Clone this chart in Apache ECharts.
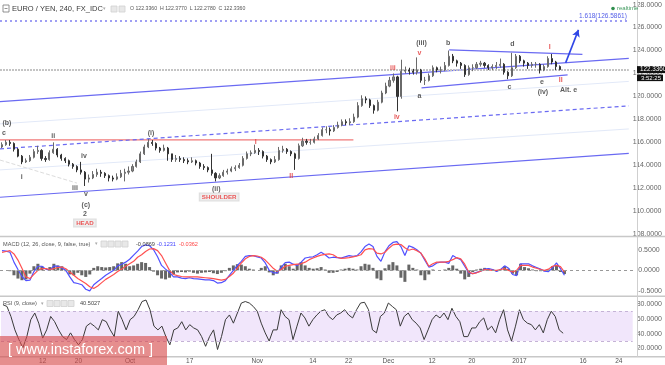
<!DOCTYPE html>
<html><head><meta charset="utf-8">
<script src="https://cdn.jsdelivr.net/npm/echarts@6/dist/echarts.min.js"></script>
<style>html,body{margin:0;padding:0;background:#fff;overflow:hidden}#c{width:665px;height:365px}</style>
</head><body><div id="c"></div>
<script>
// ---------- DATA ----------
// 4-bar aggregated candles: [open, close, low, high]
const ohlc = [
[115.6,115.8,115.5,116.0],[115.8,116.0,115.7,116.2],[116.0,115.9,115.7,116.2],[115.9,115.4,115.2,116.0],[115.4,114.8,114.7,115.5],
[114.8,114.3,114.1,114.9],[114.3,114.4,114.2,114.6],[114.4,114.7,114.3,114.9],[114.7,115.2,114.6,115.4],[115.2,115.3,115.0,115.7],
[115.3,114.6,114.4,115.4],[114.6,114.5,114.3,114.8],[114.5,115.1,114.4,115.3],[115.1,115.4,115.0,116.0],[115.4,114.9,114.7,115.5],
[114.9,114.6,114.4,115.0],[114.6,114.4,114.2,114.7],[114.4,114.1,113.9,114.5],[114.1,113.9,113.7,114.2],[113.9,113.6,113.4,114.0],
[113.6,113.4,113.2,114.3],[113.4,112.8,112.2,113.5],[112.8,112.9,112.5,113.2],[112.9,113.2,112.8,113.5],[113.2,113.4,113.0,113.7],
[113.4,113.3,113.0,113.6],[113.3,113.1,112.9,113.4],[113.1,112.9,112.6,113.2],[112.9,112.8,112.6,113.1],[112.8,113.0,112.7,113.3],
[113.0,113.3,112.9,113.6],[113.3,113.4,112.6,113.7],[113.4,113.5,113.2,113.9],[113.5,113.9,113.4,114.1],[113.9,114.3,113.8,114.5],
[114.3,115.0,114.2,115.2],[115.0,115.6,114.9,115.8],[115.6,116.0,115.5,116.3],[116.0,115.9,115.7,116.2],[115.9,115.5,115.3,116.0],
[115.5,115.3,115.1,115.6],[115.3,115.5,115.2,115.8],[115.5,115.0,114.4,115.6],[115.0,114.5,114.3,115.0],[114.5,114.6,114.3,114.9],
[114.6,114.5,114.3,114.8],[114.5,114.4,114.2,114.7],[114.4,114.3,114.1,114.6],[114.3,114.4,114.2,114.7],[114.4,114.2,114.0,114.5],
[114.2,113.9,113.7,114.3],[113.9,113.8,113.6,114.1],[113.8,113.6,113.4,113.9],[113.6,113.3,113.1,115.0],[113.3,112.9,112.6,113.4],
[112.9,113.1,112.8,113.3],[113.1,113.4,113.0,113.6],[113.4,113.5,113.2,113.7],[113.5,113.7,113.4,113.9],[113.7,113.8,113.5,114.0],
[113.8,114.0,113.7,114.2],[114.0,114.6,113.9,114.8],[114.6,115.0,114.5,115.2],[115.0,115.1,114.8,115.3],[115.1,115.3,115.0,115.8],
[115.3,115.2,114.9,115.5],[115.2,114.8,114.6,115.3],[114.8,114.5,114.3,114.9],[114.5,114.3,114.1,114.6],[114.3,114.5,114.2,114.8],
[114.5,115.3,114.4,115.6],[115.3,115.4,115.1,115.7],[115.4,115.2,115.0,115.5],[115.2,115.0,114.8,115.3],[115.0,114.6,113.6,115.1],
[114.6,115.7,114.5,115.9],[115.7,116.1,115.6,116.4],[116.1,116.0,115.8,116.3],[116.0,116.0,115.8,116.3],[116.0,116.3,115.9,116.5],
[116.3,116.6,116.2,116.8],[116.6,117.1,116.5,117.3],[117.1,117.1,116.8,117.4],[117.1,117.0,116.6,117.3],[117.0,117.3,116.9,117.5],
[117.3,117.5,117.2,117.8],[117.5,117.8,117.4,118.0],[117.8,117.7,117.5,118.0],[117.7,117.8,117.5,118.1],[117.8,118.2,117.7,118.5],
[118.2,119.2,118.1,119.5],[119.2,119.8,119.1,120.1],[119.8,119.7,119.4,120.0],[119.7,119.2,119.0,119.8],[119.2,118.8,118.5,119.3],
[118.8,119.5,118.7,119.7],[119.5,120.3,119.4,120.5],[120.3,120.9,120.2,121.2],[120.9,121.4,120.8,121.7],[121.4,121.7,121.2,122.0],
[121.7,120.0,118.7,121.8],[120.0,122.2,119.8,123.2],[122.2,122.3,122.0,122.6],[122.3,122.2,121.9,122.5],[122.2,122.1,121.9,122.4],
[122.1,122.3,121.9,123.4],[122.3,121.4,121.2,122.4],[121.4,121.4,121.0,121.7],[121.4,121.8,121.3,122.0],[121.8,122.5,121.7,122.7],
[122.5,122.3,122.1,122.6],[122.3,122.3,122.0,122.6],[122.3,122.7,122.2,123.0],[122.7,123.5,122.6,124.0],[123.5,123.1,122.9,123.7],
[123.1,122.9,122.6,123.2],[122.9,122.7,122.4,123.0],[122.7,121.9,121.7,122.8],[121.9,122.5,121.8,122.7],[122.5,122.5,122.2,122.8],
[122.5,122.8,122.4,123.0],[122.8,122.9,122.6,123.1],[122.9,122.7,122.5,123.0],[122.7,122.5,122.3,122.8],[122.5,122.6,122.3,122.8],
[122.6,122.7,122.4,123.0],[122.7,122.8,122.5,123.3],[122.8,122.1,121.9,122.9],[122.1,121.8,121.5,122.2],[121.8,122.5,121.7,123.8],
[122.5,123.5,122.4,123.7],[123.5,123.1,122.9,123.6],[123.1,122.9,122.6,123.2],[122.9,122.7,122.4,123.0],[122.7,122.8,122.5,123.0],
[122.8,122.8,122.5,123.0],[122.8,122.3,122.0,122.9],[122.3,122.6,122.2,122.8],[122.6,123.3,122.5,123.5],[123.3,123.0,122.8,123.7],
[123.0,122.6,122.3,123.1],[122.6,122.34,122.28,122.7]
];
const macdLine = [
0.48,0.47,0.44,0.2,0.02,-0.15,-0.25,-0.24,-0.03,0.1,
0.1,0.03,0.0,0.11,0.1,0.06,0.0,-0.16,-0.3,-0.32,
-0.35,-0.46,-0.5,-0.35,-0.27,-0.2,-0.12,-0.06,0.0,0.11,
0.15,0.2,0.27,0.37,0.47,0.58,0.62,0.6,0.5,0.33,
0.12,0.03,-0.05,-0.16,-0.16,-0.19,-0.2,-0.18,-0.2,-0.21,
-0.22,-0.23,-0.23,-0.25,-0.31,-0.3,-0.25,-0.12,0.0,0.12,
0.22,0.34,0.36,0.36,0.33,0.3,0.18,0.0,-0.06,-0.06,
0.08,0.19,0.2,0.15,0.12,0.2,0.3,0.32,0.33,0.38,
0.44,0.38,0.3,0.32,0.31,0.3,0.33,0.36,0.34,0.36,
0.45,0.58,0.64,0.58,0.34,0.22,0.45,0.6,0.68,0.7,
0.58,0.36,0.6,0.56,0.5,0.42,0.25,0.08,0.11,0.18,
0.2,0.2,0.17,0.36,0.3,0.26,0.1,-0.06,-0.08,-0.05,
-0.02,0.03,0.04,0.02,-0.03,0.02,0.11,0.05,-0.1,-0.13,
0.16,0.16,0.16,0.11,0.07,0.03,-0.02,-0.03,0.06,0.18,
0.04,-0.12
];
const signalLine = [
0.44,0.46,0.48,0.4,0.25,0.05,-0.16,-0.2,-0.1,0.0,
0.04,0.04,0.02,0.04,0.07,0.08,0.04,-0.04,-0.12,-0.2,
-0.26,-0.32,-0.4,-0.44,-0.38,-0.3,-0.22,-0.16,-0.1,-0.03,
0.03,0.1,0.16,0.22,0.32,0.38,0.46,0.52,0.53,0.48,
0.36,0.18,0.0,-0.1,-0.13,-0.15,-0.16,-0.16,-0.16,-0.16,
-0.17,-0.18,-0.19,-0.2,-0.22,-0.24,-0.22,-0.15,-0.07,0.05,
0.18,0.28,0.34,0.36,0.35,0.32,0.25,0.15,0.05,-0.02,
0.02,0.1,0.12,0.14,0.15,0.16,0.2,0.26,0.3,0.34,
0.37,0.39,0.4,0.38,0.32,0.29,0.3,0.31,0.33,0.35,
0.38,0.5,0.53,0.52,0.42,0.4,0.44,0.54,0.62,0.64,
0.63,0.55,0.49,0.52,0.48,0.42,0.28,0.1,0.16,0.2,
0.2,0.2,0.22,0.26,0.31,0.28,0.15,-0.04,-0.08,-0.06,
-0.02,0.02,0.01,0.0,0.0,0.02,0.04,0.0,-0.04,0.0,
0.12,0.12,0.12,0.08,0.05,0.02,0.0,0.03,0.1,0.12,
0.09,-0.04
];
const macdHist = [
0.0,0.0,-0.02,-0.12,-0.2,-0.24,-0.22,-0.08,0.1,0.16,
0.1,0.0,0.08,0.16,0.12,0.1,-0.02,-0.1,-0.12,-0.06,
-0.12,-0.16,-0.1,0.06,0.1,0.08,0.07,0.08,0.1,0.17,
0.2,0.16,0.1,0.12,0.16,0.2,0.18,0.08,-0.03,-0.12,
-0.2,-0.22,-0.18,-0.1,-0.05,-0.04,-0.05,-0.03,-0.06,-0.08,
-0.06,-0.05,-0.04,-0.07,-0.09,-0.06,-0.02,0.06,0.12,0.15,
0.14,0.1,0.04,0.02,0.0,0.06,0.1,-0.05,-0.12,-0.08,
0.12,0.16,0.1,0.04,0.14,0.2,0.12,0.06,0.04,0.05,
0.08,0.02,-0.06,-0.06,-0.04,0.02,0.04,0.06,0.04,0.02,
0.1,0.16,0.14,0.06,-0.2,-0.24,0.05,0.14,0.2,0.12,
-0.18,-0.28,0.14,0.06,0.02,-0.12,-0.24,-0.1,0.02,0.0,
0.0,0.02,0.06,0.12,0.04,-0.08,-0.22,-0.16,-0.04,0.02,
0.04,0.06,0.04,0.02,-0.02,0.02,0.1,0.04,-0.08,-0.12,
0.16,0.08,0.05,0.02,-0.02,-0.02,-0.02,0.02,0.1,0.12,
-0.04,-0.09
];
const rsiLine = [
78.7,76.4,63,45,32,21,36,58.7,67.6,54,
34,45,63,56,45,36,32,41,32,25,
32,50,54,50,45,58.7,56,45,36,70,
58.7,45,58.7,63,72,83,85,72,50,45,
50,36,25,45,47.6,56,45,52,47.6,45,
36,23,36,45,18.7,36,58.7,65,54,67.6,
81,83,81,76.4,70,54,41,30,45,45,
72,63,58.7,32,50,67.6,61,50,58.7,65,
70,72,63,58.7,65,67.6,72,65,61,72,
81,82,72,45,41,63,67.6,81,76.4,72,
50,63,67.6,58.7,54,47.6,32,45,58.7,65,
61,67.6,58.7,74,63,56,36,36,47.6,47.6,
56,61,45,50,41,58.7,72,45,30,50,
72,58.7,54,52,45,52,41,58.7,70,63,
45,40.5
];
const slotCount = 159;
const dateTicks = [[10,'12'],[19,'20'],[32,'Oct'],[47,'17'],[64,'Nov'],[78,'14'],[87,'22'],[97,'Dec'],[108,'12'],[118,'20'],[130,'2017'],[146,'16'],[155,'24']];
const priceTicks = [108,110,112,114,116,118,120,122,124,126,128];
const macdTicks = [-0.5,0,0.5];
const rsiTicks = [20,40,60,80];
const rsiBand = [30,70];
const currentPrice = 122.336;
const fibLevel = 126.5861;
// annotations in (bar, price) coordinates
const channelUpper = [[0,119.55],[637,123.31]];
const channelLower = [[0,111.22],[637,115.04]];
const channelMid = [[0,115.43],[637,119.18]];
const faintA = [[0,117.61],[637,121.31]];
const faintB = [[0,113.6],[637,117.17]];
const faintDash = [[0,114.46],[78,112.45]];
const neckline = [[0,116.21],[358,116.21]];
const triUpper = [[455,124.05],[590,123.66]];
const triLower = [[427,120.74],[575,121.88]];
const arrowPath = [[573,122.92],[586,125.8]];
const waveLabels = [[7,117.69,'(b)'],[4,116.82,'c'],[54,116.56,'ii'],[22,113.0,'i'],[85,114.82,'iv'],[76,112.03,'iii'],[87,111.51,'v'],[87,110.55,'(c)'],[86,109.77,'2'],[153,116.82,'(i)'],[219,111.95,'(ii)'],[427,124.66,'(iii)'],[454,124.66,'b'],[425,120.05,'a'],[519,124.58,'d'],[516,120.83,'c'],[549,121.27,'e'],[550,120.40,'(iv)'],[576,120.57,'Alt. e']];
const redLabels = [[398,122.49,'iii'],[402,118.22,'iv'],[425,123.79,'v'],[259,116.04,'I'],[295,113.08,'II'],[557,124.32,'I'],[568,121.44,'II']];
const boxLabels = [[86,108.98,'HEAD'],[222,111.25,'SHOULDER']];

// ---------- CHART ----------
const FONT = 'Liberation Sans, Arial, sans-serif';
const categories = Array.from({length: slotCount}, (_, i) => i);
const tickMap = {}; dateTicks.forEach(d => tickMap[d[0]] = d[1]);
const near = (v, arr) => arr.some(t => Math.abs(v - t) < 1e-6);
const chart = echarts.init(document.getElementById('c'), null, {renderer: 'canvas'});

function lineSeries(data, color, width, type) {
  return {type:'line', xAxisIndex:3, yAxisIndex:0, data:data, showSymbol:false, symbol:'none', silent:true,
    lineStyle:{color:color, width:width, type:type||'solid'}, z:3, animation:false};
}
function labelSeries(arr, style) {
  return {type:'scatter', xAxisIndex:3, yAxisIndex:0, symbol:'circle', symbolSize:1,
    itemStyle:{color:'rgba(0,0,0,0)'}, silent:true, z:10,
    data: arr.map(a => ({value:[a[0], a[1]], name:a[2]})),
    label: Object.assign({show:true, position:'inside', formatter: p => p.name, fontFamily:FONT}, style),
    labelLayout:{hideOverlap:false}};
}
const grids = [
  {left:0, right:28, top:0, height:236.5},
  {left:0, right:28, top:237, height:59},
  {left:0, right:28, top:296.3, height:60.4}
];
const catAxis = (g, showLabels) => ({type:'category', gridIndex:g, data:categories, boundaryGap:true,
  axisLine:{show:false}, axisTick:{show:false}, splitLine:{show:false},
  axisLabel: showLabels ? {show:true, interval:0, margin:2, fontSize:6.5, color:'#555', fontFamily:FONT,
    formatter:(v, idx) => tickMap[idx] || ''} : {show:false}});
const valAxis = (g, min, max, interval, ticks, fmt) => ({type:'value', gridIndex:g, position:'right', min:min, max:max, interval:interval,
  scale:true, axisLine:{show:false}, axisTick:{show:false}, splitLine:{show:false},
  axisLabel:{show:true, margin:4, fontSize:7, color:'#666', fontFamily:FONT,
    formatter: v => near(v, ticks) ? fmt(v) : ''}});

const option = {
  animation:false,
  backgroundColor:'#fff',
  grid: grids,
  xAxis: [catAxis(0,false), catAxis(1,false), catAxis(2,true),
    {type:'value', gridIndex:0, min:0, max:637, show:false}],
  yAxis: [
    valAxis(0, 107.8, 128.4, 0.2, priceTicks, v => (Math.round(v)).toFixed(4)),
    valAxis(1, -0.625, 0.8125, 0.0625, macdTicks, v => (Math.round(v*2)/2).toFixed(4)),
    valAxis(2, 10, 90, 10, rsiTicks, v => Math.round(v).toFixed(4))
  ],
  series: [
    lineSeries(faintA, '#e2e9f8', 1),
    lineSeries(faintB, '#e2e9f8', 1),
    lineSeries(faintDash, '#dcdcdc', 1, 'dashed'),
    lineSeries(neckline, '#f07878', 1.3),
    lineSeries(channelUpper, '#6a6af2', 1.2),
    lineSeries(channelLower, '#6a6af2', 1.2),
    lineSeries(channelMid, '#6a6af2', 1.2, [4,3]),
    lineSeries(triUpper, '#6a6af2', 1.2),
    lineSeries(triLower, '#6a6af2', 1.2),
    {type:'line', xAxisIndex:3, yAxisIndex:0, data:[], silent:true,
      markLine:{silent:true, animation:false, symbol:['none','arrow'], symbolSize:[6,7],
        lineStyle:{color:'#2f46e6', width:1.6, type:'solid'}, label:{show:false},
        data:[[{coord:arrowPath[0]},{coord:arrowPath[1]}]]}},
    {type:'candlestick', xAxisIndex:0, yAxisIndex:0, data:ohlc, barWidth:1.6, z:5,
      itemStyle:{color:'#8a8a8a', color0:'#3a3a3a', borderColor:'#6a6a6a', borderColor0:'#333', borderWidth:1},
      markLine:{silent:true, animation:false, symbol:'none',
        data:[
          {yAxis:currentPrice, lineStyle:{color:'#c4c4c4', width:2, type:[2,1]}, label:{show:false}},
          {yAxis:fibLevel, lineStyle:{color:'#8080f0', width:1.6, type:[2,3]},
            label:{show:true, position:'insideEndTop', formatter:'1.618(' + fibLevel.toFixed(4) + ')', color:'#5560e8', fontSize:6.5, fontFamily:FONT, distance:[2,1]}}
        ]}},
    labelSeries(waveLabels, {color:'#333', fontSize:7, fontWeight:'bold'}),
    labelSeries(redLabels, {color:'#e23232', fontSize:7, fontWeight:'bold'}),
    labelSeries(boxLabels, {color:'#e83030', fontSize:6.2, fontWeight:'bold', backgroundColor:'#ececec', borderColor:'#d6d6d6', borderWidth:1, padding:[1,2,0,2]}),
    // MACD panel
    {type:'bar', xAxisIndex:1, yAxisIndex:1, data:macdHist, barWidth:3, itemStyle:{color:'#666'}, silent:true,
      markLine:{silent:true, symbol:'none', label:{show:false}, lineStyle:{color:'#999', type:[3,3], width:1}, data:[{yAxis:0}]}},
    {type:'line', xAxisIndex:1, yAxisIndex:1, data:macdLine, showSymbol:false, lineStyle:{color:'#5050ff', width:1.2}, silent:true},
    {type:'line', xAxisIndex:1, yAxisIndex:1, data:signalLine, showSymbol:false, lineStyle:{color:'#ff5050', width:1.2}, silent:true},
    // RSI panel
    {type:'line', xAxisIndex:2, yAxisIndex:2, data:rsiLine, showSymbol:false, lineStyle:{color:'#3a3a3a', width:1}, silent:true, z:4,
      markArea:{silent:true, itemStyle:{color:'#f1e6fb'}, data:[[{yAxis:rsiBand[0]},{yAxis:rsiBand[1]}]]},
      markLine:{silent:true, symbol:'none', label:{show:false}, lineStyle:{color:'#c5b3d6', type:[3,3], width:1},
        data:[{yAxis:rsiBand[0]},{yAxis:rsiBand[1]}]}}
  ]
};
chart.setOption(option);

const py = chart.convertToPixel({yAxisIndex:0}, currentPrice);
const txt = (x, y, t, size, color, z) => ({type:'text', x:x, y:y, z:z||100, silent:true,
  style:{text:t, fontSize:size, fill:color, fontFamily:FONT, verticalAlign:'middle'}});
const hline = (y, x1, x2, color, w) => ({type:'line', z:50, silent:true, shape:{x1:x1, y1:y, x2:x2, y2:y}, style:{stroke:color, lineWidth:w}});
const icon = (x, y) => ({type:'rect', z:100, silent:true, shape:{x:x, y:y, width:6, height:6}, style:{fill:'#e8e8e8', stroke:'#d0d0d0', lineWidth:0.8}});
const graphic = [
  hline(236.6, 0, 665, '#c8c8c8', 1.5),
  hline(296.3, 0, 665, '#c8c8c8', 1.5),
  hline(356.8, 0, 665, '#c8c8c8', 1.5),
  {type:'line', z:50, silent:true, shape:{x1:637.5, y1:0, x2:637.5, y2:357}, style:{stroke:'#cfcfcf', lineWidth:1}},
  // title bar
  {type:'rect', z:100, silent:true, shape:{x:3, y:5, width:6, height:7}, style:{fill:'none', stroke:'#777', lineWidth:0.8}},
  hline(8.5, 4.5, 7.5, '#777', 0.8),
  txt(12, 9, 'EURO / YEN, 240, FX_IDC', 7.5, '#3a3a3a'),
  txt(103, 9, '▾', 5, '#aaa'),
  icon(111, 6), icon(119, 6),
  txt(130, 9, 'O 122.3360  H 122.3770  L 122.2780  C 122.3360', 5.2, '#555'),
  {type:'circle', z:100, silent:true, shape:{cx:613, cy:8.5, r:1.8}, style:{fill:'#2f8f4e'}},
  txt(617, 8.5, 'realtime', 6, '#3f9a5e'),
  // current price tags
  {type:'rect', z:100, silent:true, shape:{x:637, y:py-3.5, width:28, height:7}, style:{fill:'#111'}},
  txt(640, py, currentPrice.toFixed(4), 6.3, '#fff', 101),
  {type:'rect', z:100, silent:true, shape:{x:637, y:py+5, width:26, height:6.5}, style:{fill:'#111'}},
  txt(641, py+8.3, '3:52:25', 6, '#fff', 101),
  // MACD header
  txt(3, 244, 'MACD (12, 26, close, 9, false, true)', 5.6, '#555'),
  txt(95, 244, '▾', 4.5, '#aaa'),
  icon(101, 241), icon(108, 241), icon(115, 241), icon(122, 241),
  txt(136, 244, '-0.0869', 5.6, '#444'),
  txt(157, 244, '-0.1231', 5.6, '#4545ff'),
  txt(179, 244, '-0.0362', 5.6, '#ff4545'),
  // RSI header
  txt(3, 303.5, 'RSI (9, close)', 5.6, '#555'),
  txt(41, 303.5, '▾', 4.5, '#aaa'),
  icon(47, 300.5), icon(54, 300.5), icon(61, 300.5), icon(68, 300.5),
  txt(80, 303.5, '40.5027', 5.6, '#444'),
  // watermark
  {type:'rect', z:200, silent:true, shape:{x:0, y:336, width:167, height:29}, style:{fill:'rgba(214,72,72,0.62)'}},
  txt(8, 350, '[ www.instaforex.com ]', 14.5, '#fff', 210)
];
chart.setOption({graphic: graphic});
</script>
</body></html>
